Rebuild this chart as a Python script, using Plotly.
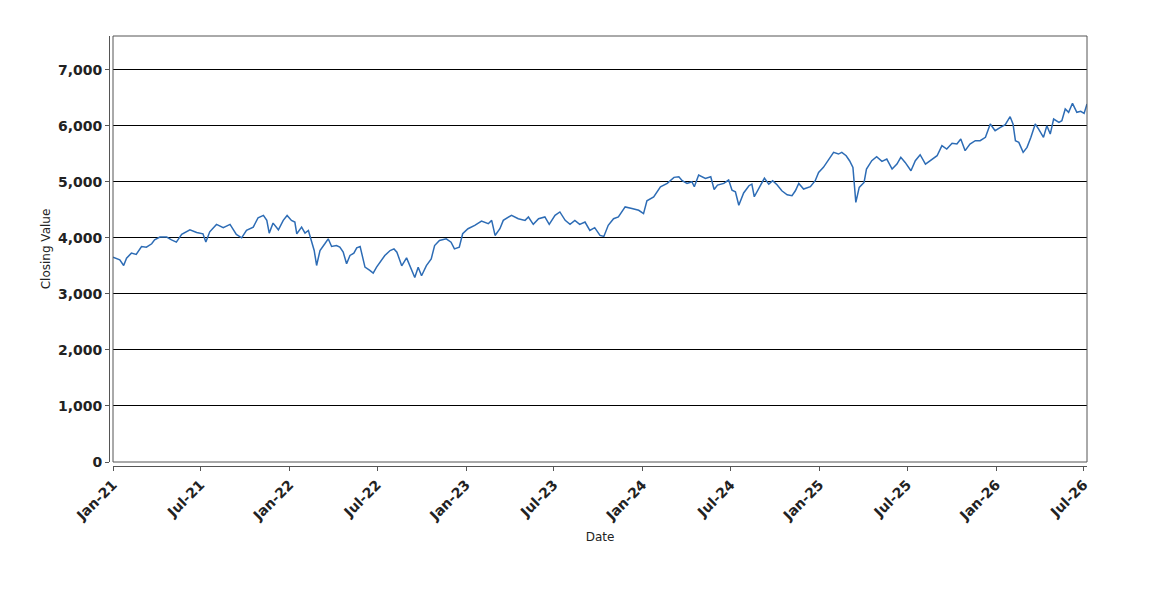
import plotly.graph_objects as go

# closing values, grouped by year
dates_2021 = ["2021-01-01", "2021-01-08", "2021-01-15", "2021-01-23", "2021-01-29", "2021-02-08",
              "2021-02-18", "2021-03-01", "2021-03-11", "2021-03-22", "2021-03-28", "2021-04-08",
              "2021-04-22", "2021-05-02", "2021-05-12", "2021-05-23", "2021-06-09", "2021-06-23",
              "2021-07-06", "2021-07-12", "2021-07-20", "2021-08-03", "2021-08-17", "2021-08-31",
              "2021-09-13", "2021-09-24", "2021-10-04", "2021-10-18", "2021-10-28", "2021-11-08",
              "2021-11-15", "2021-11-20", "2021-11-28", "2021-12-09", "2021-12-19", "2021-12-27"]
close_2021 = [3655, 3625, 3607, 3505, 3637, 3726, 3702, 3845, 3833, 3893, 3964, 4012,
              4012, 3964, 3923, 4060, 4143, 4095, 4071, 3923, 4107, 4238, 4179, 4238,
              4060, 4000, 4131, 4190, 4357, 4399, 4310, 4083, 4262, 4143, 4310, 4399]

dates_2022 = ["2022-01-05", "2022-01-12", "2022-01-16", "2022-01-26", "2022-02-02", "2022-02-09",
              "2022-02-16", "2022-02-21", "2022-02-26", "2022-03-05", "2022-03-15", "2022-03-22",
              "2022-03-29", "2022-04-08", "2022-04-15", "2022-04-22", "2022-04-29", "2022-05-06",
              "2022-05-14", "2022-05-20", "2022-05-27", "2022-05-30", "2022-06-06", "2022-06-16",
              "2022-06-23", "2022-06-30", "2022-07-07", "2022-07-17", "2022-07-28", "2022-08-05",
              "2022-08-11", "2022-08-21", "2022-08-31", "2022-09-10", "2022-09-17", "2022-09-24",
              "2022-10-01", "2022-10-11", "2022-10-21", "2022-10-28", "2022-11-07", "2022-11-21",
              "2022-12-01", "2022-12-08", "2022-12-18", "2022-12-25"]
close_2022 = [4310, 4280, 4071, 4190, 4083, 4131, 3923, 3774, 3506, 3774, 3893, 3982,
              3845, 3863, 3833, 3744, 3536, 3685, 3726, 3821, 3845, 3714, 3476, 3417,
              3369, 3476, 3560, 3683, 3772, 3802, 3744, 3500, 3641, 3443, 3293, 3473,
              3323, 3503, 3623, 3862, 3952, 3982, 3922, 3802, 3832, 4072]

dates_2023 = ["2023-01-05", "2023-01-19", "2023-02-02", "2023-02-16", "2023-02-23", "2023-03-02",
              "2023-03-12", "2023-03-19", "2023-04-05", "2023-04-19", "2023-05-03", "2023-05-10",
              "2023-05-20", "2023-05-31", "2023-06-13", "2023-06-22", "2023-07-04", "2023-07-14",
              "2023-07-25", "2023-08-04", "2023-08-14", "2023-08-24", "2023-09-04", "2023-09-14",
              "2023-09-24", "2023-10-05", "2023-10-13", "2023-10-22", "2023-11-02", "2023-11-12",
              "2023-11-26", "2023-12-10", "2023-12-24"]
close_2023 = [4162, 4222, 4299, 4251, 4311, 4042, 4162, 4311, 4401, 4341, 4311, 4371,
              4240, 4341, 4371, 4240, 4401, 4461, 4311, 4240, 4311, 4240, 4281, 4132,
              4180, 4042, 4024, 4222, 4341, 4371, 4551, 4521, 4491]

dates_2024 = ["2024-01-03", "2024-01-10", "2024-01-24", "2024-02-07", "2024-02-21", "2024-03-06",
              "2024-03-16", "2024-03-23", "2024-04-02", "2024-04-12", "2024-04-17", "2024-04-26",
              "2024-05-10", "2024-05-21", "2024-05-28", "2024-06-04", "2024-06-17", "2024-06-27",
              "2024-07-04", "2024-07-11", "2024-07-18", "2024-07-28", "2024-08-08", "2024-08-14",
              "2024-08-19", "2024-08-28", "2024-09-09", "2024-09-18", "2024-09-26", "2024-10-05",
              "2024-10-15", "2024-10-26", "2024-11-05", "2024-11-12", "2024-11-19", "2024-11-29",
              "2024-12-13", "2024-12-23", "2024-12-30"]
close_2024 = [4431, 4659, 4731, 4910, 4970, 5078, 5090, 5018, 4970, 5000, 4910, 5120,
              5060, 5090, 4862, 4940, 4970, 5030, 4850, 4820, 4581, 4800, 4929, 4958,
              4732, 4869, 5065, 4958, 5018, 4946, 4839, 4768, 4750, 4839, 4970, 4869,
              4911, 5018, 5167]

dates_2025 = ["2025-01-09", "2025-01-20", "2025-01-30", "2025-02-09", "2025-02-16", "2025-02-25",
              "2025-03-04", "2025-03-11", "2025-03-14", "2025-03-17", "2025-03-24", "2025-04-03",
              "2025-04-08", "2025-04-19", "2025-04-29", "2025-05-10", "2025-05-20", "2025-05-31",
              "2025-06-10", "2025-06-18", "2025-06-27", "2025-07-09", "2025-07-18", "2025-07-28",
              "2025-08-08", "2025-08-21", "2025-09-01", "2025-09-11", "2025-09-21", "2025-10-02",
              "2025-10-12", "2025-10-20", "2025-10-29", "2025-11-08", "2025-11-19", "2025-11-29",
              "2025-12-10", "2025-12-20", "2025-12-30"]
close_2025 = [5256, 5405, 5524, 5494, 5524, 5464, 5375, 5256, 4899, 4631, 4899, 4988,
              5226, 5375, 5446, 5363, 5405, 5226, 5315, 5435, 5345, 5196, 5375, 5482,
              5315, 5405, 5464, 5643, 5583, 5685, 5673, 5762, 5554, 5673, 5732, 5732,
              5792, 6030, 5911]

dates_2026 = ["2026-01-10", "2026-01-20", "2026-01-30", "2026-02-05", "2026-02-10", "2026-02-17",
              "2026-02-26", "2026-03-06", "2026-03-14", "2026-03-23", "2026-03-30", "2026-04-09",
              "2026-04-16", "2026-04-23", "2026-04-30", "2026-05-11", "2026-05-17", "2026-05-24",
              "2026-05-31", "2026-06-08", "2026-06-17", "2026-06-25", "2026-07-02", "2026-07-08"]
close_2026 = [5970, 6018, 6161, 6030, 5732, 5702, 5524, 5613, 5792, 6030, 5940, 5792,
              6000, 5851, 6119, 6060, 6089, 6298, 6238, 6399, 6238, 6256, 6220, 6387]

y_ticks = [0, 1000, 2000, 3000, 4000, 5000, 6000, 7000]

dates = dates_2021 + dates_2022 + dates_2023 + dates_2024 + dates_2025 + dates_2026
closes = close_2021 + close_2022 + close_2023 + close_2024 + close_2025 + close_2026

fig = go.Figure()
fig.add_trace(go.Scatter(x=dates, y=closes, mode="lines",
                         line=dict(color="#2d6cb5", width=1.5), showlegend=False))

tick_font = dict(family="DejaVu Sans", size=14, color="#222222", weight="bold")

# page body adds 8px, so margins are shifted up/left by that much
fig.update_layout(
    width=1150, height=600,
    paper_bgcolor="white", plot_bgcolor="white",
    margin=dict(l=101, r=71, t=28, b=142),
    font=dict(family="DejaVu Sans", color="#222222"),
    xaxis=dict(
        domain=[0.0041, 1], anchor="free", position=0,
        range=["2021-01-01", "2026-07-08"],
        tick0="2021-01-01", dtick="M6", tickformat="%b-%y", tickangle=-45,
        tickfont=tick_font, ticks="outside", ticklen=4, tickcolor="#555555",
        showline=True, linecolor="#555555", linewidth=1,
        showgrid=False, zeroline=False,
        title=dict(text="Date", font=dict(size=12), standoff=9),
    ),
    yaxis=dict(
        domain=[0.0093, 1], anchor="free", position=0,
        range=[0, 7600], tickvals=y_ticks, tickformat=",",
        tickfont=tick_font, ticks="outside", ticklen=4, tickcolor="#555555",
        showline=True, linecolor="#555555", linewidth=1,
        showgrid=True, gridcolor="black", gridwidth=1, zeroline=False,
        title=dict(text="Closing Value", font=dict(size=12), standoff=3),
    ),
    shapes=[dict(type="rect", xref="x domain", yref="y domain", x0=0, x1=1, y0=0, y1=1,
                 line=dict(color="#555555", width=1), layer="above")],
)

fig.write_html("out.html")
